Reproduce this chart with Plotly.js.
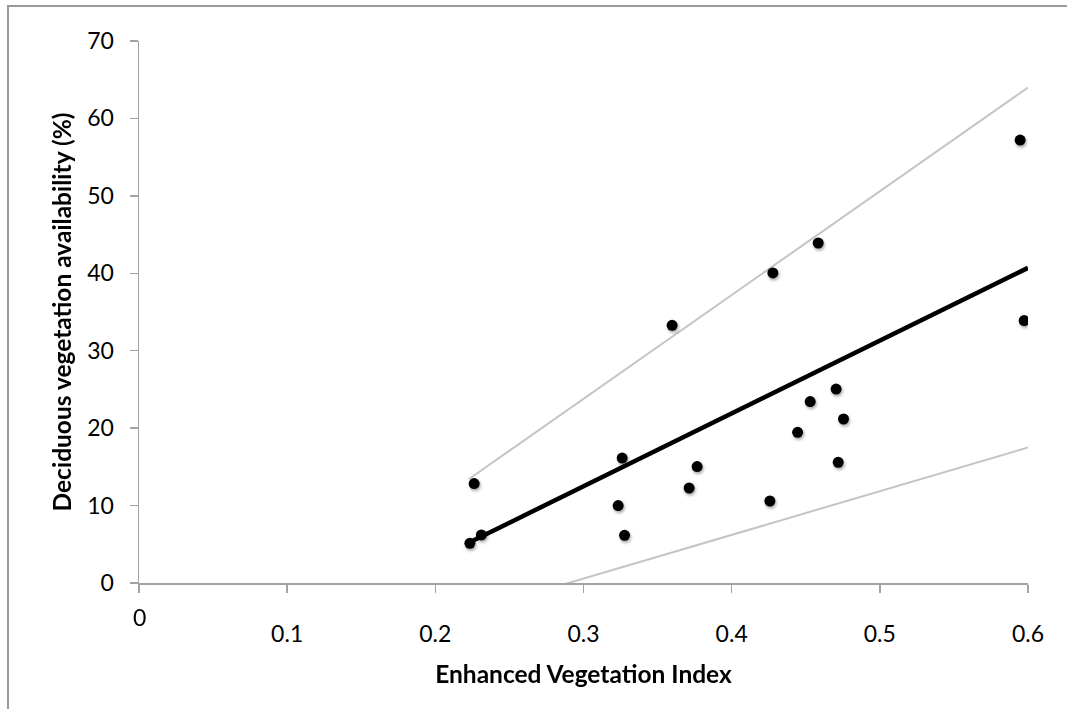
<!DOCTYPE html>
<html><head><meta charset="utf-8">
<script src="https://cdn.plot.ly/plotly-3.0.1.min.js"></script>
<style>html,body{margin:0;padding:0;overflow:hidden;background:#fff}#chart{width:1067px;height:709px}</style>
</head><body><div id="chart"></div>
<script>
// Data
const evi = [0.2262, 0.2233, 0.2311, 0.3261, 0.3234, 0.3277, 0.3598, 0.3767, 0.3713, 0.4278,
             0.4258, 0.4584, 0.4445, 0.4530, 0.4705, 0.4755, 0.4719, 0.5947, 0.5974];
const deciduous = [12.84, 5.13, 6.21, 16.14, 10.0, 6.16, 33.28, 15.03, 12.27, 40.04,
                   10.59, 43.91, 19.46, 23.43, 25.05, 21.18, 15.59, 57.21, 33.89];
const lineX = [0.2225, 0.6];
const fitY = [5.2, 40.7];
const upperY = [13.4, 64.0];
const lowerY = [-3.8, 17.5];
const xTickVals = [0, 0.1, 0.2, 0.3, 0.4, 0.5, 0.6];
const xTickText = ['', '0.1', '0.2', '0.3', '0.4', '0.5', '0.6'];
const yTickVals = [0, 10, 20, 30, 40, 50, 60, 70];
const yTickText = ['0', '10', '20', '30', '40', '50', '60', '70'];
const xTitle = 'Enhanced Vegetation Index';
const yTitle = 'Deciduous vegetation availability (%)';

const FONT = 'Lato, Carlito, Calibri, sans-serif';
const axisColor = '#a3a3a3';

const traces = [
  {x: lineX, y: upperY, mode: 'lines', line: {color: '#c4c4c4', width: 2}, hoverinfo: 'skip', showlegend: false},
  {x: lineX, y: lowerY, mode: 'lines', line: {color: '#c4c4c4', width: 2}, hoverinfo: 'skip', showlegend: false},
  {x: lineX, y: fitY, mode: 'lines', line: {color: '#000000', width: 4.5}, hoverinfo: 'skip', showlegend: false},
  {x: evi, y: deciduous, mode: 'markers', marker: {color: '#000000', size: 11, line: {width: 0}}, showlegend: false}
];

const W = 1067, H = 709, L = 139, R = 39, T = 41, B = 126;
const pw = W - L - R, ph = H - T - B;

const layout = {
  width: W, height: H,
  margin: {l: L, r: R, t: T, b: B, pad: 0},
  paper_bgcolor: '#ffffff', plot_bgcolor: '#ffffff',
  font: {family: FONT, color: '#000000', size: 23},
  showlegend: false,
  xaxis: {
    range: [0, 0.6], tickmode: 'array', tickvals: xTickVals, ticktext: xTickText,
    showgrid: false, zeroline: false, showline: true, linecolor: axisColor, linewidth: 1.5,
    ticks: 'outside', ticklen: 8, tickwidth: 1.5, tickcolor: axisColor,
    tickfont: {family: FONT, size: 23, color: '#000'}, ticklabelstandoff: 22,
    automargin: false,
    title: {text: xTitle, font: {family: FONT, size: 24.5, color: '#000', weight: 'bold'}, standoff: 20}
  },
  yaxis: {
    range: [0, 70], tickmode: 'array', tickvals: yTickVals, ticktext: yTickText,
    showgrid: false, zeroline: false, showline: true, linecolor: axisColor, linewidth: 1.5,
    ticks: 'outside', ticklen: 8, tickwidth: 1.5, tickcolor: axisColor,
    tickfont: {family: FONT, size: 23, color: '#000'}, ticklabelstandoff: 11,
    automargin: false,
    title: {text: yTitle, font: {family: FONT, size: 24.5, color: '#000', weight: 'bold'}, standoff: 8}
  },
  annotations: [
    {x: 0, y: 0, xref: 'x', yref: 'y', text: '0', showarrow: false,
     xanchor: 'center', yanchor: 'middle', yshift: -34,
     font: {family: FONT, size: 23, color: '#000'}}
  ],
  shapes: [
    {type: 'rect', xref: 'paper', yref: 'paper', layer: 'below',
     x0: (8 - L) / pw, x1: (W + 50 - L) / pw,
     y0: -(H + 50 - (T + ph)) / ph, y1: (T + ph - 6) / ph,
     line: {color: '#9a9a9a', width: 2}, fillcolor: 'rgba(0,0,0,0)'}
  ]
};

Plotly.newPlot('chart', traces, layout, {displayModeBar: false, staticPlot: true}).then(function () {
  const tr = document.querySelectorAll('.scatterlayer .trace');
  if (tr.length) {
    tr[tr.length - 1].style.filter = 'drop-shadow(1px 2px 1.5px rgba(0,0,0,0.35))';
  }
});
</script>
</body></html>
